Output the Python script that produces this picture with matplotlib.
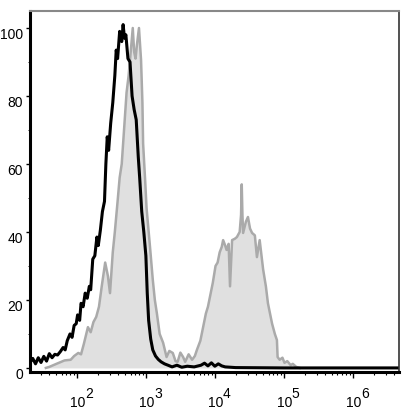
import numpy as np
import matplotlib.pyplot as plt
from matplotlib.ticker import FixedLocator, NullFormatter

plt.rcParams['font.family'] = ['Liberation Sans', 'DejaVu Sans']

# isotype control (black), log10 of fluorescence vs % of max
control_log = [1.32, 1.36, 1.40, 1.44, 1.48, 1.52, 1.56, 1.60, 1.64, 1.68, 1.72, 1.76,
               1.80, 1.83, 1.86, 1.90, 1.93, 1.96, 1.99, 2.01, 2.04, 2.06, 2.09, 2.12,
               2.15, 2.18, 2.20, 2.23, 2.26, 2.29, 2.31, 2.34, 2.37, 2.40, 2.42, 2.44,
               2.46, 2.49, 2.52, 2.55, 2.57, 2.59, 2.62, 2.65, 2.67, 2.69, 2.71, 2.74,
               2.77, 2.80, 2.83, 2.86, 2.89, 2.91, 2.94, 2.97, 3.00, 3.02, 3.04, 3.07,
               3.10, 3.14, 3.18, 3.22, 3.27, 3.32, 3.38, 3.45, 3.52, 3.60, 3.70, 3.80,
               3.85, 3.90, 3.95, 4.00, 4.05, 4.10, 4.15, 4.30, 5.00, 6.70]
control_pct = [1.5, 2.8, 1.2, 3.0, 1.6, 3.4, 2.0, 4.2, 3.0, 4.0, 3.8, 4.8,
               6.0, 5.3, 8.0, 10.0, 9.0, 12.5, 13.0, 15.6, 14.0, 19.0, 18.0, 22.0,
               20.5, 24.0, 23.0, 32.0, 33.0, 38.5, 36.0, 40.5, 46.0, 49.0, 60.0, 68.0,
               64.0, 72.0, 78.0, 86.0, 93.5, 91.0, 99.0, 96.0, 101.0, 97.0, 98.0, 91.0,
               90.0, 80.0, 76.0, 73.0, 62.0, 56.0, 46.0, 40.0, 33.0, 22.0, 14.0, 8.5,
               5.3, 3.5, 2.5, 1.8, 1.2, 0.8, 0.3, 0.8, 0.2, 0.5, 0.3, 0.8,
               1.4, 0.6, 1.5, 0.5, 1.2, 0.6, 0.3, 0.1, 0.0, 0.0]

# stained sample (grey, filled)
stained_log = [1.55, 1.60, 1.68, 1.75, 1.82, 1.91, 1.96, 2.02, 2.06, 2.10, 2.13, 2.16,
               2.20, 2.24, 2.28, 2.32, 2.36, 2.41, 2.45, 2.48, 2.52, 2.55, 2.59, 2.62,
               2.65, 2.67, 2.70, 2.72, 2.75, 2.77, 2.81, 2.83, 2.85, 2.87, 2.90, 2.93,
               2.95, 2.96, 2.99, 3.01, 3.06, 3.10, 3.13, 3.16, 3.20, 3.25, 3.30, 3.34,
               3.39, 3.43, 3.46, 3.50, 3.54, 3.57, 3.62, 3.67, 3.71, 3.74, 3.79, 3.83,
               3.87, 3.90, 3.94, 3.97, 4.01, 4.04, 4.07, 4.10, 4.12, 4.15, 4.17, 4.20,
               4.22, 4.25, 4.29, 4.32, 4.36, 4.38, 4.39, 4.40, 4.41, 4.45, 4.48, 4.51,
               4.54, 4.58, 4.61, 4.65, 4.70, 4.74, 4.77, 4.83, 4.87, 4.90, 4.91, 4.94,
               4.98, 5.01, 5.05, 5.10, 5.13, 5.18, 5.23]
stained_pct = [0.0, 0.3, 1.0, 1.6, 2.2, 2.4, 3.5, 4.4, 4.0, 7.0, 9.5, 12.0,
               10.5, 13.5, 15.0, 18.0, 24.0, 31.0, 27.0, 22.0, 34.0, 40.0, 49.0, 56.0,
               60.0, 66.0, 75.0, 81.0, 86.0, 90.6, 100.0, 93.0, 91.0, 95.0, 100.0, 90.6,
               78.0, 66.0, 55.0, 47.0, 35.6, 26.0, 20.0, 16.0, 10.0, 7.4, 3.2, 5.0,
               4.4, 2.0, 1.8, 4.5, 3.2, 1.8, 4.0, 2.4, 3.5, 5.3, 8.0, 12.0,
               16.0, 18.0, 22.0, 25.0, 30.0, 31.0, 34.0, 35.6, 37.6, 36.0, 34.7, 36.5,
               24.0, 37.6, 38.0, 38.5, 40.0, 45.0, 54.0, 45.0, 39.7, 43.0, 44.4, 41.0,
               39.7, 39.0, 32.6, 37.6, 29.0, 24.0, 19.0, 13.0, 10.0, 8.2, 3.2, 2.4,
               3.0, 1.5, 2.0, 0.8, 1.2, 0.3, 0.0]

decades = [2, 3, 4, 5, 6]
y_ticks = [0, 20, 40, 60, 80, 100]

fig = plt.figure(figsize=(4.09, 4.13), dpi=100)
ax = fig.add_axes([30 / 409, 41 / 413, 369 / 409, 361 / 413])

sx = 10 ** np.array(stained_log)
cx = 10 ** np.array(control_log)
ax.fill_between(sx, stained_pct, 0, color='#e0e0e0', lw=0)
ax.plot(sx, stained_pct, color='#aaaaaa', lw=1.8)
ax.plot(cx, control_pct, color='black', lw=2.2)

ax.set_xscale('log')
ax.set_xlim(10 ** 1.32, 10 ** 6.67)
ax.set_ylim(-1.2, 105)

ax.xaxis.set_major_locator(FixedLocator([10 ** d for d in decades]))
minors = [m * 10 ** d for d in range(1, 7) for m in range(2, 10)]
ax.xaxis.set_minor_locator(FixedLocator(minors))
ax.xaxis.set_major_formatter(NullFormatter())
ax.xaxis.set_minor_formatter(NullFormatter())

ax.set_yticks(y_ticks)
ax.set_yticks(range(10, 100, 20), minor=True)
ax.set_yticklabels([str(v) for v in y_ticks], fontsize=10, va='top')

ax.tick_params(axis='x', which='major', length=4, width=1, direction='out')
ax.tick_params(axis='x', which='minor', length=2, width=0.8, direction='out')
ax.tick_params(axis='y', which='major', length=3, width=1, direction='out', pad=2)
ax.tick_params(axis='y', which='minor', length=1.5, width=0.6, direction='out')

for d in decades:
    ax.annotate('10', xy=(10 ** d, 0), xycoords=('data', 'axes fraction'),
                xytext=(0.7, -25.2), textcoords='offset points',
                ha='center', va='baseline', fontsize=10)
    ax.annotate(str(d), xy=(10 ** d, 0), xycoords=('data', 'axes fraction'),
                xytext=(5.8, -18.7), textcoords='offset points',
                ha='left', va='baseline', fontsize=10)

ax.spines['left'].set_linewidth(2.2)
ax.spines['bottom'].set_linewidth(2.2)
ax.spines['top'].set_color('#888888')
ax.spines['top'].set_linewidth(1.5)
ax.spines['right'].set_color('#333333')
ax.spines['right'].set_linewidth(1.2)

fig.savefig('out.png', dpi=100)
